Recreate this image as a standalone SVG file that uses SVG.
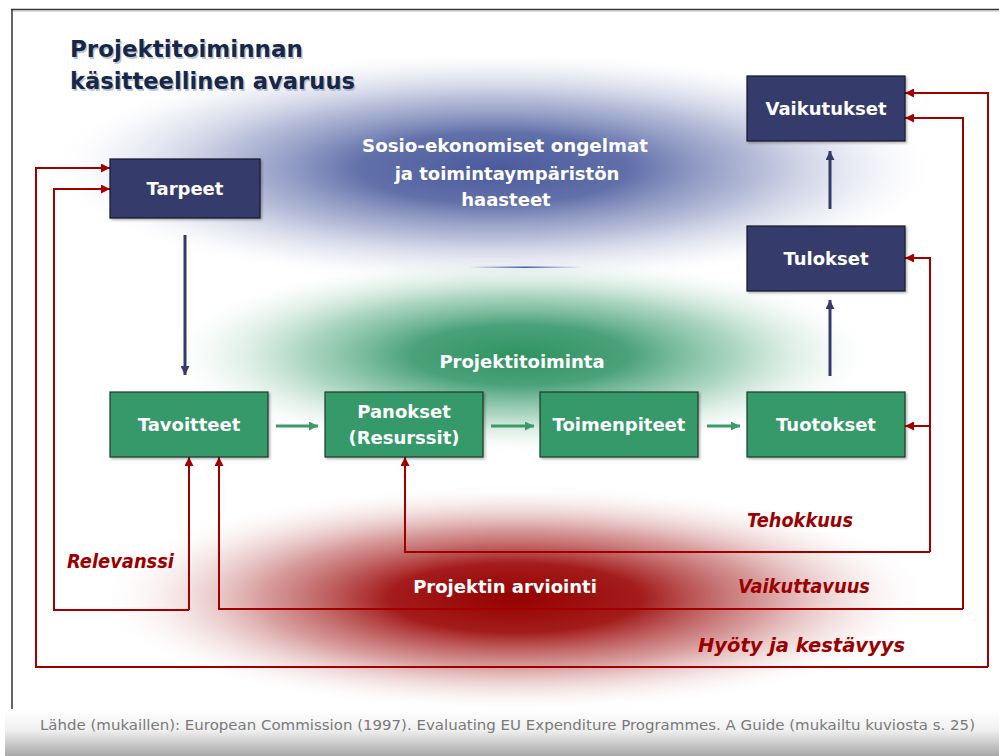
<svg xmlns="http://www.w3.org/2000/svg" width="999" height="756" viewBox="0 0 999 756">
<style>
.bt{font-family:"DejaVu Sans","Liberation Sans",sans-serif;font-weight:bold;fill:#fff;text-anchor:middle}
.lbl{font-family:"DejaVu Sans","Liberation Sans",sans-serif;font-weight:bold;font-style:italic;fill:#9a0000;font-size:19px}
.navy{fill:#353a6a;stroke:#1a1a2a;stroke-width:1.2}
.green{fill:#35996a;stroke:#1c3a2a;stroke-width:1.2}
.red{fill:none;stroke:#a00000;stroke-width:2}
.ga{stroke:#3a9a6a;stroke-width:3;fill:none}
.na{stroke:#353a6a;stroke-width:3;fill:none}
</style>
<defs>
<radialGradient id="gBlue" cx="0.5" cy="0.5" r="0.5">
<stop offset="0" stop-color="#4a5a9c" stop-opacity="1"/>
<stop offset="0.3" stop-color="#5060a0" stop-opacity="0.9"/>
<stop offset="0.6" stop-color="#7380b5" stop-opacity="0.5"/>
<stop offset="0.85" stop-color="#a8b0d2" stop-opacity="0.15"/>
<stop offset="1" stop-color="#ffffff" stop-opacity="0"/>
</radialGradient>
<radialGradient id="gGreen" cx="0.5" cy="0.5" r="0.5">
<stop offset="0" stop-color="#2f9360" stop-opacity="1"/>
<stop offset="0.3" stop-color="#36976a" stop-opacity="0.9"/>
<stop offset="0.6" stop-color="#5aad84" stop-opacity="0.5"/>
<stop offset="0.85" stop-color="#a5d2bb" stop-opacity="0.15"/>
<stop offset="1" stop-color="#ffffff" stop-opacity="0"/>
</radialGradient>
<radialGradient id="gRed" cx="0.5" cy="0.5" r="0.5">
<stop offset="0" stop-color="#960000" stop-opacity="1"/>
<stop offset="0.3" stop-color="#9c0808" stop-opacity="0.92"/>
<stop offset="0.6" stop-color="#b03a3a" stop-opacity="0.5"/>
<stop offset="0.85" stop-color="#d89a9a" stop-opacity="0.15"/>
<stop offset="1" stop-color="#ffffff" stop-opacity="0"/>
</radialGradient>
<linearGradient id="gLine" x1="0" y1="0" x2="1" y2="0">
<stop offset="0" stop-color="#6070b0" stop-opacity="0"/>
<stop offset="0.5" stop-color="#4a5aa0" stop-opacity="1"/>
<stop offset="1" stop-color="#6070b0" stop-opacity="0"/>
</linearGradient>
<linearGradient id="gFoot" x1="0" y1="0" x2="0" y2="1">
<stop offset="0" stop-color="#ffffff"/>
<stop offset="0.45" stop-color="#f0f0f0"/>
<stop offset="1" stop-color="#a8a8a8"/>
</linearGradient>
<marker id="mRed" viewBox="0 0 10 10" refX="10" refY="5" markerWidth="4.5" markerHeight="4.5" orient="auto" markerUnits="strokeWidth">
<path d="M0,0 L10,5 L0,10 z" fill="#a00000"/>
</marker>
<marker id="mGreen" viewBox="0 0 10 10" refX="10" refY="5" markerWidth="3" markerHeight="3" orient="auto" markerUnits="strokeWidth">
<path d="M0,0 L10,5 L0,10 z" fill="#3a9a6a"/>
</marker>
<marker id="mNavy" viewBox="0 0 10 10" refX="10" refY="5" markerWidth="3" markerHeight="3" orient="auto" markerUnits="strokeWidth">
<path d="M0,0 L10,5 L0,10 z" fill="#353a6a"/>
</marker>
<filter id="sh" x="-5%" y="-5%" width="115%" height="120%">
<feDropShadow dx="1.5" dy="1.5" stdDeviation="1" flood-color="#000" flood-opacity="0.3"/>
</filter>
</defs>
<rect x="0" y="0" width="999" height="756" fill="#ffffff"/>
<!-- background blobs -->
<ellipse cx="495" cy="168" rx="450" ry="118" fill="url(#gBlue)"/>
<ellipse cx="520" cy="355" rx="360" ry="100" fill="url(#gGreen)"/>
<ellipse cx="515" cy="598" rx="420" ry="115" fill="url(#gRed)"/>
<rect x="468" y="266.5" width="114" height="1.5" fill="url(#gLine)"/>
<!-- frame -->
<line x1="11" y1="9.5" x2="999" y2="9.5" stroke="#333" stroke-width="1.5"/>
<line x1="11" y1="11" x2="999" y2="11" stroke="#bbb" stroke-width="1"/>
<line x1="12" y1="9" x2="12" y2="709" stroke="#333" stroke-width="1.5"/>
<!-- footer -->
<rect x="5" y="709" width="994" height="47" fill="url(#gFoot)"/>
<text x="40" y="730" font-family="DejaVu Sans, Liberation Sans, sans-serif" font-size="14.5" fill="#7a7a7a" textLength="935" lengthAdjust="spacingAndGlyphs">Lähde (mukaillen): European Commission (1997). Evaluating EU Expenditure Programmes. A Guide (mukailtu kuviosta s. 25)</text>
<!-- title -->
<g id="title" font-family="DejaVu Sans, Liberation Sans, sans-serif" font-weight="bold" font-size="23">
<text x="71.5" y="58.5" fill="#9aa0b0" opacity="0.6">Projektitoiminnan</text>
<text x="71.5" y="90.5" fill="#9aa0b0" opacity="0.6" textLength="285" lengthAdjust="spacingAndGlyphs">käsitteellinen avaruus</text>
<text x="70" y="57" fill="#16284a">Projektitoiminnan</text>
<text x="70" y="89" fill="#16284a" textLength="285" lengthAdjust="spacingAndGlyphs">käsitteellinen avaruus</text>
</g>
<!-- area labels -->
<g id="area-labels">
<text class="bt" x="505" y="152" font-size="18" textLength="286" lengthAdjust="spacingAndGlyphs">Sosio-ekonomiset ongelmat</text>
<text class="bt" x="507" y="180" font-size="18">ja toimintaympäristön</text>
<text class="bt" x="506" y="206" font-size="18">haasteet</text>
<text class="bt" x="522" y="368" font-size="18">Projektitoiminta</text>
<text class="bt" x="505" y="593" font-size="18">Projektin arviointi</text>
</g>
<!-- connectors -->
<g id="connectors">
<line class="na" x1="185" y1="235" x2="185" y2="375" marker-end="url(#mNavy)"/>
<line class="na" x1="830" y1="376" x2="830" y2="300" marker-end="url(#mNavy)"/>
<line class="na" x1="830" y1="209" x2="830" y2="151" marker-end="url(#mNavy)"/>
<line class="ga" x1="276" y1="426" x2="318" y2="426" marker-end="url(#mGreen)"/>
<line class="ga" x1="491" y1="426" x2="534" y2="426" marker-end="url(#mGreen)"/>
<line class="ga" x1="707" y1="426" x2="740" y2="426" marker-end="url(#mGreen)"/>
<!-- Relevanssi -->
<polyline class="red" points="189,610 54,610 54,189 110,189" marker-end="url(#mRed)"/>
<polyline class="red" points="189,610 189,457" marker-end="url(#mRed)"/>
<!-- Tehokkuus -->
<polyline class="red" points="930,552 405,552 405,457" marker-end="url(#mRed)"/>
<polyline class="red" points="930,552 930,258 905,258" marker-end="url(#mRed)"/>
<polyline class="red" points="930,426 905,426" marker-end="url(#mRed)"/>
<!-- Vaikuttavuus -->
<polyline class="red" points="963,609 219,609 219,457" marker-end="url(#mRed)"/>
<polyline class="red" points="963,609 963,118 905,118" marker-end="url(#mRed)"/>
<!-- Hyöty ja kestävyys -->
<polyline class="red" points="988,667 36,667 36,168 110,168" marker-end="url(#mRed)"/>
<polyline class="red" points="988,667 988,93 905,93" marker-end="url(#mRed)"/>
</g>
<!-- criteria labels -->
<g id="criteria">
<text class="lbl" x="67" y="568" textLength="107" lengthAdjust="spacingAndGlyphs">Relevanssi</text>
<text class="lbl" x="747" y="527" textLength="106" lengthAdjust="spacingAndGlyphs">Tehokkuus</text>
<text class="lbl" x="738" y="593" textLength="132" lengthAdjust="spacingAndGlyphs">Vaikuttavuus</text>
<text class="lbl" x="698" y="652" textLength="207" lengthAdjust="spacingAndGlyphs">Hyöty ja kestävyys</text>
</g>
<!-- nodes -->
<g id="tarpeet"><rect class="navy" x="110" y="159" width="150" height="59" filter="url(#sh)"/><text class="bt" x="185" y="195" font-size="18">Tarpeet</text></g>
<g id="vaikutukset"><rect class="navy" x="747" y="76" width="158" height="65" filter="url(#sh)"/><text class="bt" x="826" y="115" font-size="18">Vaikutukset</text></g>
<g id="tulokset"><rect class="navy" x="747" y="226" width="158" height="65" filter="url(#sh)"/><text class="bt" x="826" y="265" font-size="18">Tulokset</text></g>
<g id="tavoitteet"><rect class="green" x="110" y="392" width="158" height="65" filter="url(#sh)"/><text class="bt" x="189" y="431" font-size="18">Tavoitteet</text></g>
<g id="panokset"><rect class="green" x="325" y="392" width="158" height="65" filter="url(#sh)"/><text class="bt" x="404" y="418" font-size="18">Panokset</text><text class="bt" x="404" y="444" font-size="18">(Resurssit)</text></g>
<g id="toimenpiteet"><rect class="green" x="540" y="392" width="158" height="65" filter="url(#sh)"/><text class="bt" x="619" y="431" font-size="18">Toimenpiteet</text></g>
<g id="tuotokset"><rect class="green" x="747" y="392" width="158" height="65" filter="url(#sh)"/><text class="bt" x="826" y="431" font-size="18">Tuotokset</text></g>
</svg>
